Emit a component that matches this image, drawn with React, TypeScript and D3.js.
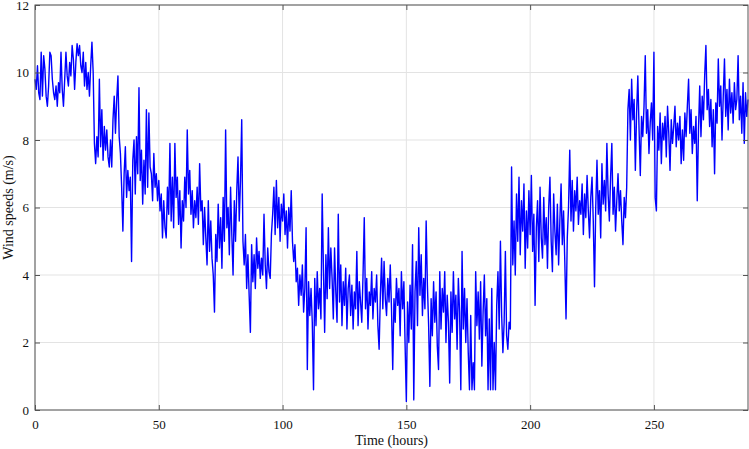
import * as d3 from "d3";
import React, { useEffect, useRef } from "react";

// wind speed samples every half hour, one array per day
const day1 = [
  9.8, 9.5, 10.2, 9.4, 9.2, 10.6, 9.3, 10.5, 10.1, 9.3, 9.0, 9.6, 10.6, 10.5, 9.8, 9.4,
  9.2, 9.6, 9.0, 9.7, 9.4, 10.6, 9.5, 9.0, 9.8, 10.6, 9.9, 9.6, 10.3, 9.9, 10.8, 10.4,
  9.5, 10.3, 10.85, 10.5, 10.8, 10.2, 10.0, 10.6, 9.6, 10.3, 9.5, 10.0, 9.3, 10.2, 10.9, 10.0,
];
const day2 = [
  7.9, 7.3, 8.1, 7.5, 9.8, 7.8, 8.9, 7.4, 8.4, 7.7, 8.3, 7.5, 7.2, 8.0, 7.2, 8.6,
  9.3, 8.2, 9.2, 9.9, 8.1, 7.6, 6.6, 5.3, 7.0, 7.8, 6.3, 7.1, 6.5, 6.9, 4.4, 7.4,
  8.0, 6.4, 8.1, 7.0, 9.55, 6.8, 7.7, 6.1, 7.4, 6.4, 8.9, 6.6, 8.8, 7.2, 7.0, 6.2,
];
const day3 = [
  7.6, 6.6, 7.0, 6.2, 6.8, 5.9, 6.4, 5.1, 6.2, 5.4, 5.1, 6.6, 5.8, 7.9, 5.6, 6.9,
  5.4, 7.9, 6.3, 6.9, 5.5, 6.5, 4.8, 6.2, 5.6, 6.9, 6.0, 8.3, 6.4, 7.1, 5.8, 6.5,
  5.4, 6.2, 5.7, 6.6, 5.5, 7.3, 5.9, 6.2, 4.9, 6.0, 5.1, 4.3, 6.2, 4.7, 5.6, 4.5,
];
const day4 = [
  4.0, 2.9, 5.2, 4.4, 6.1, 4.8, 5.7, 4.2, 6.3, 5.0, 8.3, 5.4, 6.0, 4.6, 6.6, 5.2,
  4.0, 6.2, 5.0, 6.5, 7.5, 5.6, 6.8, 8.6, 5.0, 4.3, 5.2, 3.6, 4.6, 3.4, 2.3, 4.9,
  3.8, 4.6, 3.6, 5.1, 4.2, 4.7, 3.9, 4.5, 4.0, 5.8, 4.3, 3.6, 4.8, 4.1, 3.9, 5.2,
];
const day5 = [
  5.8, 6.6, 5.2, 6.8, 5.4, 6.3, 5.0, 6.1, 5.6, 6.4, 5.2, 5.9, 4.8, 6.0, 5.3, 6.5,
  5.0, 4.4, 4.9, 3.8, 4.2, 3.1, 4.0, 3.4, 4.3, 2.9, 3.6, 5.4, 1.2, 3.8, 2.8, 3.6,
  2.6, 0.6, 3.9, 2.5, 4.1, 3.0, 3.6, 2.7, 6.4, 4.2, 2.3, 4.6, 3.3, 5.4, 3.6, 4.8,
];
const day6 = [
  3.9, 2.7, 4.8, 3.5, 2.6, 5.8, 3.2, 4.3, 2.5, 3.8, 3.1, 4.2, 2.4, 3.6, 4.0, 2.8,
  3.7, 2.4, 3.5, 3.0, 4.7, 2.5, 3.8, 3.2, 2.6, 4.0, 5.7, 3.0, 3.9, 2.4, 3.5, 3.1,
  4.1, 2.7, 3.6, 3.2, 4.0, 2.5, 1.8, 3.4, 4.5, 3.0, 4.4, 3.3, 2.8, 3.9, 3.2, 4.3,
];
const day7 = [
  3.0, 1.2, 3.3, 2.6, 3.9, 3.1, 3.6, 2.2, 4.1, 3.0, 3.8, 1.9, 0.25, 3.2, 2.0, 3.7,
  2.4, 4.9, 0.3, 3.5, 4.4, 2.5, 5.4, 3.4, 4.6, 2.8, 3.9, 3.0, 5.6, 3.7, 2.5, 0.7,
  3.3, 2.2, 3.8, 2.6, 3.5, 1.9, 1.2, 4.1, 2.4, 3.6, 2.9, 4.1, 2.0, 3.4, 2.6, 0.8,
];
const day8 = [
  3.5, 2.3, 4.1, 2.7, 3.4, 1.8, 3.9, 2.9, 0.6, 4.7, 2.4, 3.6, 2.0, 3.3, 1.7, 0.6,
  2.8, 0.6, 1.4, 0.6, 4.1, 2.5, 3.5, 2.1, 3.8, 1.3, 2.9, 4.0, 2.2, 3.3, 0.6, 2.7,
  0.6, 3.6, 0.6, 2.0, 0.6, 3.1, 4.1, 2.4, 5.0, 2.8, 1.7, 2.6, 4.7, 2.2, 1.8, 2.6,
];
const day9 = [
  2.4, 7.2, 4.3, 5.6, 4.0, 6.4, 5.0, 6.9, 4.6, 6.2, 5.3, 6.7, 4.2, 5.9, 4.8, 6.5,
  5.2, 6.95, 4.7, 5.8, 3.1, 5.4, 6.2, 4.4, 6.6, 5.1, 4.5, 6.3, 4.9, 5.7, 4.2, 6.0,
  6.9, 5.0, 4.1, 6.4, 5.3, 4.6, 6.1, 4.3, 5.6, 6.7, 4.9, 5.9, 4.4, 2.7, 5.1, 6.0,
];
const day10 = [
  7.7, 5.6, 6.8, 5.3, 6.5, 5.9, 6.9, 5.5, 6.2, 5.8, 6.7, 5.2, 6.4, 5.7, 6.95, 5.9,
  5.1, 6.3, 6.9, 5.6, 3.65, 6.0, 7.4, 5.8, 6.5, 5.1, 7.3, 6.1, 6.8, 5.9, 7.9, 6.4,
  5.6, 6.9, 7.9, 5.8, 6.6, 5.3, 6.2, 7.0, 5.9, 6.5, 5.6, 4.9, 6.3, 5.7, 6.6, 8.9,
];
const day11 = [
  9.5, 8.0, 9.8, 8.6, 9.2, 7.1, 8.8, 9.9, 8.3, 6.95, 8.7, 8.1, 9.0, 10.5, 8.2, 8.9,
  7.6, 8.5, 9.1, 8.0, 10.6, 6.3, 5.9, 8.4, 7.7, 8.8, 7.3, 8.5, 8.0, 8.7, 7.5, 9.0,
  8.2, 7.1, 8.6, 7.9, 8.4, 9.0, 7.8, 8.5, 8.0, 8.7, 7.3, 8.3, 7.4, 8.8, 8.1, 9.0,
];
const day12 = [
  9.8, 8.2, 8.9, 7.6, 8.4, 7.9, 8.7, 6.2, 8.3, 9.6, 8.1, 9.3, 8.6, 9.9, 10.8, 8.9,
  9.5, 8.4, 9.2, 7.8, 8.9, 7.0, 9.1, 8.5, 10.4, 9.0, 9.6, 8.0, 9.3, 10.4, 8.7, 9.5,
  8.3, 9.8, 8.8, 9.4, 8.5, 9.7, 8.9, 9.2, 10.5, 8.6, 9.3, 8.2, 9.7, 7.9, 9.4, 8.7, 9.2,
];

const windSpeed = [
  ...day1, ...day2, ...day3, ...day4, ...day5, ...day6,
  ...day7, ...day8, ...day9, ...day10, ...day11, ...day12,
];
const stepHours = 0.5;

const xTicks = [0, 50, 100, 150, 200, 250];
const yTicks = [0, 2, 4, 6, 8, 10, 12];

const App: React.FC = () => {
  const ref = useRef<SVGSVGElement | null>(null);

  useEffect(() => {
    if (!ref.current) return;
    const svg = d3.select(ref.current);
    svg.selectAll("*").remove();

    const width = 749;
    const height = 449;
    const margin = { top: 5, right: 1, bottom: 39, left: 35 };
    const font = "'Liberation Serif', 'Times New Roman', serif";

    const x = d3
      .scaleLinear()
      .domain([0, 288])
      .range([margin.left, width - margin.right]);
    const y = d3
      .scaleLinear()
      .domain([0, 12])
      .range([height - margin.bottom, margin.top]);

    svg.append("rect").attr("width", width).attr("height", height).attr("fill", "#fff");

    // grid
    const grid = svg.append("g").attr("stroke", "#e3e3e3").attr("stroke-width", 1);
    xTicks.forEach((t) => {
      grid.append("line")
        .attr("x1", x(t)).attr("x2", x(t))
        .attr("y1", y(0)).attr("y2", y(12));
    });
    yTicks.forEach((t) => {
      grid.append("line")
        .attr("x1", x(0)).attr("x2", x(288))
        .attr("y1", y(t)).attr("y2", y(t));
    });

    // the series
    const line = d3
      .line<number>()
      .x((_, i) => x(i * stepHours))
      .y((d) => y(d));

    svg.append("path")
      .datum(windSpeed)
      .attr("fill", "none")
      .attr("stroke", "#0000ff")
      .attr("stroke-width", 1.4)
      .attr("stroke-linejoin", "round")
      .attr("d", line);

    // axes (ticks pointing inward, matlab style)
    const axisColor = "#555";
    const styleAxis = (g: d3.Selection<SVGGElement, unknown, null, undefined>) => {
      g.select(".domain").remove();
      g.selectAll(".tick line").attr("stroke", axisColor);
      g.selectAll(".tick text")
        .attr("fill", "#111")
        .style("font-family", font)
        .style("font-size", "13px");
    };

    svg.append("g")
      .attr("transform", `translate(0,${y(0)})`)
      .call(d3.axisBottom(x).tickValues(xTicks).tickSizeInner(-5).tickSizeOuter(0).tickPadding(10))
      .call(styleAxis);

    svg.append("g")
      .attr("transform", `translate(0,${y(12)})`)
      .call(d3.axisTop(x).tickValues(xTicks).tickSizeInner(-5).tickSizeOuter(0).tickFormat(() => ""))
      .call(styleAxis);

    svg.append("g")
      .attr("transform", `translate(${x(0)},0)`)
      .call(d3.axisLeft(y).tickValues(yTicks).tickSizeInner(-5).tickSizeOuter(0).tickPadding(6))
      .call(styleAxis);

    svg.append("g")
      .attr("transform", `translate(${x(288)},0)`)
      .call(d3.axisRight(y).tickValues(yTicks).tickSizeInner(-5).tickSizeOuter(0).tickFormat(() => ""))
      .call(styleAxis);

    // box
    svg.append("rect")
      .attr("x", x(0))
      .attr("y", y(12))
      .attr("width", x(288) - x(0))
      .attr("height", y(0) - y(12))
      .attr("fill", "none")
      .attr("stroke", axisColor)
      .attr("stroke-width", 1);

    // labels
    svg.append("text")
      .attr("x", (x(0) + x(288)) / 2)
      .attr("y", 445)
      .attr("text-anchor", "middle")
      .style("font-family", font)
      .style("font-size", "14px")
      .attr("fill", "#111")
      .text("Time (hours)");

    svg.append("text")
      .attr("transform", `translate(13,${(y(0) + y(12)) / 2}) rotate(-90)`)
      .attr("text-anchor", "middle")
      .style("font-family", font)
      .style("font-size", "14px")
      .attr("fill", "#111")
      .text("Wind speeds (m/s)");
  }, []);

  return (
    <svg
      ref={ref}
      width={749}
      height={449}
      style={{ position: "absolute", left: 0, top: 0 }}
    ></svg>
  );
};

export default App;
